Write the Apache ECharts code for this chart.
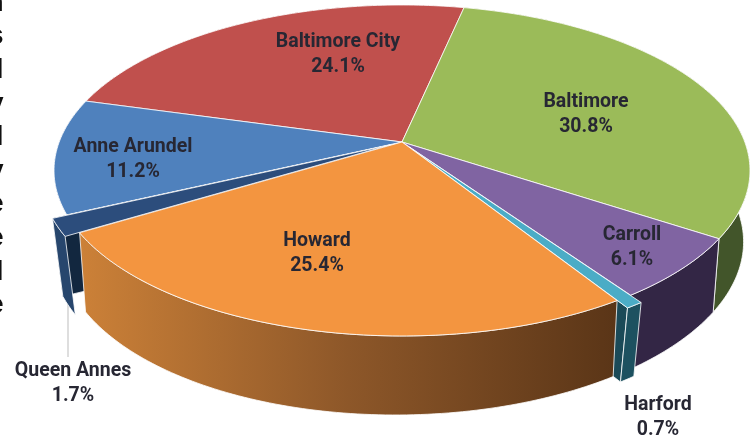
<!DOCTYPE html>
<html>
<head>
<meta charset="utf-8">
<style>html,body{margin:0;padding:0;background:#fff}#chart{width:756px;height:438px}</style>
<script src="https://cdn.jsdelivr.net/npm/echarts@6/dist/echarts.min.js"></script>
</head>
<body>
<div id="chart"></div>
<script>
// Share of county totals, clockwise from the Baltimore slice
const counties = ['Baltimore', 'Carroll', 'Harford', 'Howard', 'Queen Annes', 'Anne Arundel', 'Baltimore City'];
const shares = [30.8, 6.1, 0.7, 25.4, 1.7, 11.2, 24.1];
// Final letters of a paragraph running off the left edge
const marginLetters = ['n', 's', 'l', 'y', 'l', 'y', 'e', 'e', 'l', 'e'];

const START_DEG = 12.2;
const EXPLODE = { Harford: 0.04, 'Queen Annes': 0.04 };
const TOP_FILL = {
  Baltimore: '#9bbb59', Carroll: '#8064a2', Harford: '#4bacc6', Howard: '#f39540',
  'Queen Annes': '#2c4d7c', 'Anne Arundel': '#4f81bd', 'Baltimore City': '#c0504d'
};
const WALL_FILL = {
  Baltimore: '#42552a', Carroll: '#332645', Harford: '#1d5160',
  Howard: { type: 'linear', x: 0, y: 0, x2: 1, y2: 0, colorStops: [
    { offset: 0, color: '#cc8138' }, { offset: 0.5, color: '#8d5729' }, { offset: 1, color: '#5a3517' }] },
  'Queen Annes': '#27466d', 'Anne Arundel': '#3a6293', 'Baltimore City': '#7a302e'
};
const SIDE_FILL = { Harford: '#1b4a58', 'Queen Annes': '#12273f' };
const PAINT_ORDER = ['Baltimore City', 'Anne Arundel', 'Baltimore', 'Carroll', 'Harford', 'Queen Annes', 'Howard'];
// Text anchors of each two-line label
const LABEL_AT = {
  Baltimore: [586, 114.5], Carroll: [632, 247.5], Harford: [658, 417.5], Howard: [317, 253.5],
  'Queen Annes': [73, 383.5], 'Anne Arundel': [133, 159.5], 'Baltimore City': [338, 54.5]
};

// Perspective projection of the pie's unit disc, top and bottom faces
const VIEW = {
  cx: 402, k: 0.172,
  top: { cy: 142, rx: 342.8, ry: 160.6, tilt: 0, pull: 1 },
  bottom: { cy: 215.8, rx: 336.5, ry: 164.9, tilt: -3.18, pull: 0.72 }
};
function project(face, u, v) {
  const s = 1 / (1 - VIEW.k * v);
  return [VIEW.cx + face.rx * u * s, face.cy + face.ry * v * s + face.tilt * u * s];
}

const total = shares.reduce((a, b) => a + b, 0);
let running = START_DEG;
const slices = {};
counties.forEach((name, i) => {
  const sweep = shares[i] / total * 360;
  slices[name] = { name, value: shares[i], from: running, to: running + sweep };
  running += sweep;
});

function hub(face, slice) {
  const mid = (slice.from + slice.to) / 2 * Math.PI / 180;
  const e = (EXPLODE[slice.name] || 0) * face.pull;
  return [e * Math.sin(mid), -e * Math.cos(mid)];
}
function arc(face, slice) {
  const [hu, hv] = hub(face, slice);
  const pts = [];
  const n = Math.max(2, Math.ceil(slice.to - slice.from));
  for (let i = 0; i <= n; i++) {
    const a = (slice.from + (slice.to - slice.from) * i / n) * Math.PI / 180;
    pts.push(project(face, Math.sin(a) + hu, -Math.cos(a) + hv));
  }
  return pts;
}
const EDGE = { stroke: 'rgba(255,255,255,0.8)', lineWidth: 1, lineJoin: 'round' };

function renderSlice(params) {
  const slice = slices[PAINT_ORDER[params.dataIndex]];
  const name = slice.name;
  const topArc = arc(VIEW.top, slice);
  const bottomArc = arc(VIEW.bottom, slice);
  const topHub = project(VIEW.top, ...hub(VIEW.top, slice));
  const children = [];
  if (EXPLODE[name]) {
    // Cut face visible on a pulled-out slice
    const bottomHub = project(VIEW.bottom, ...hub(VIEW.bottom, slice));
    children.push({
      type: 'polygon',
      shape: { points: [topHub, topArc[topArc.length - 1], bottomArc[bottomArc.length - 1], bottomHub] },
      style: { fill: SIDE_FILL[name], ...EDGE }
    });
  }
  children.push({
    type: 'polygon',
    shape: { points: topArc.concat(bottomArc.slice().reverse()) },
    style: { fill: WALL_FILL[name], ...EDGE }
  });
  children.push({
    type: 'polygon',
    shape: { points: [topHub].concat(topArc) },
    style: { fill: TOP_FILL[name], ...EDGE }
  });
  return { type: 'group', children };
}

function renderLabel(params) {
  const slice = slices[PAINT_ORDER[params.dataIndex]];
  const at = LABEL_AT[slice.name];
  return {
    type: 'text',
    x: at[0], y: at[1],
    style: {
      text: slice.name + '\n' + slice.value.toFixed(1) + '%',
      x: 0, y: 0,
      align: 'center', verticalAlign: 'middle',
      font: '700 19.5px Roboto', lineHeight: 25,
      fill: '#272733'
    }
  };
}

const chart = echarts.init(document.getElementById('chart'), null, { renderer: 'canvas' });
chart.setOption({
  animation: false,
  backgroundColor: '#ffffff',
  graphic: {
    elements: marginLetters.map((ch, i) => ({
      type: 'text',
      x: 3.5,
      y: 3 + i * 33.6,
      style: { text: ch, align: 'right', verticalAlign: 'middle', font: '700 28px "Liberation Sans"', fill: '#111' }
    })).concat([{
      type: 'line',
      shape: { x1: 68, y1: 300, x2: 68, y2: 357 },
      style: { stroke: '#bdbdbd', lineWidth: 1 }
    }])
  },
  series: [
    { type: 'custom', coordinateSystem: 'none', silent: true, data: PAINT_ORDER.map(n => slices[n].value), renderItem: renderSlice },
    { type: 'custom', coordinateSystem: 'none', silent: true, z: 3, data: PAINT_ORDER.map(n => slices[n].value), renderItem: renderLabel }
  ]
});
</script>
</body>
</html>
